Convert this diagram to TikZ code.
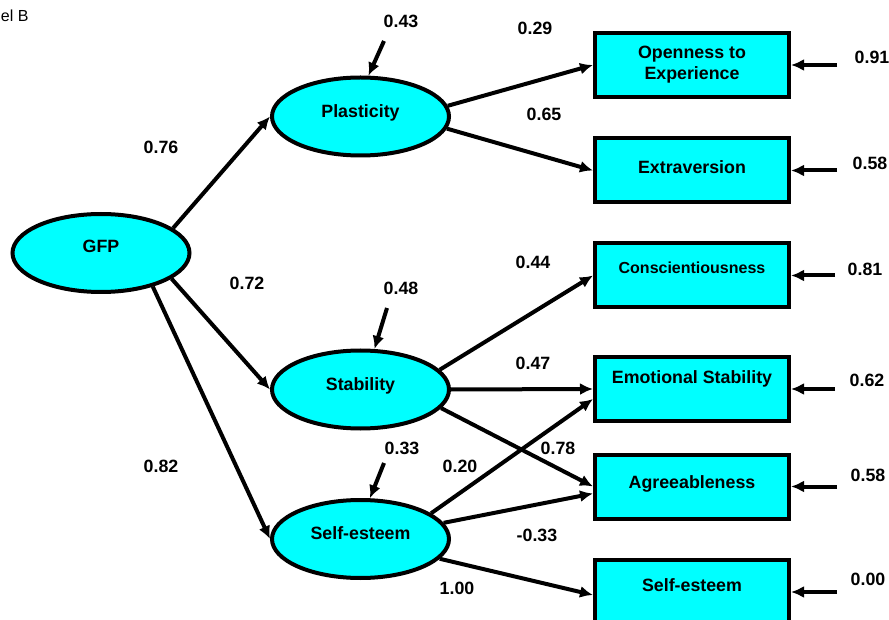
\documentclass[tikz,border=0pt]{standalone}
\usepackage{fontspec}
\setmainfont{Liberation Sans}
\usetikzlibrary{shapes.geometric,arrows.meta}
\definecolor{semcyan}{RGB}{0,255,255}

\begin{document}
\begin{tikzpicture}[x=1pt,y=-1pt,
  every node/.style={font=\fontsize{17.8}{21}\selectfont\bfseries},
  latent/.style={ellipse,draw,line width=4pt,fill=semcyan,minimum width=177pt,
    minimum height=78pt,inner sep=0pt,text height=12.5pt,text depth=11pt},
  manifest/.style={rectangle,draw,line width=4pt,fill=semcyan,minimum width=194pt,
    minimum height=64pt,inner sep=0pt,align=center},
  effect/.style={line width=4pt,-{Latex[length=13pt,width=12pt]}},
  coef/.style={inner sep=0pt}]
\useasboundingbox (0,0) rectangle (889,620);
\node[font=\fontsize{16}{19}\selectfont,anchor=base east] (panel) at (32,21.7) {el B};
% latent factors
\node[latent,text depth=14pt] (gfp) at (101,253) {GFP};
\node[latent] (plast) at (360.5,116.5) {Plasticity};
\node[latent] (stab) at (360.5,389.5) {Stability};
\node[latent] (self) at (360.5,539) {Self-esteem};
% observed scales
\node[manifest] (open) at (692,65) {Openness to\\Experience};
\node[manifest,text height=12.5pt,text depth=7pt] (extra) at (692,170.5) {Extraversion};
\node[manifest,font=\fontsize{16}{20}\selectfont\bfseries,text height=12pt,text depth=15pt] (consc) at (692,275.5) {Conscientiousness};
\node[manifest,text height=12.5pt,text depth=24pt] (emo) at (692,389) {Emotional Stability};
\node[manifest,text height=12.5pt,text depth=9pt] (agree) at (692,486.5) {Agreeableness};
\node[manifest,text height=12.5pt,text depth=14pt] (sebox) at (692,592) {Self-esteem};
% disturbances
\coordinate (dplast) at (384,41);
\coordinate (dstab) at (387,308);
\coordinate (dself) at (384,463);
\draw[effect] (dplast) -- (plast.79);
\draw[effect] (dstab) -- (stab.71);
\draw[effect] (dself) -- (self.77);
\node[coef] (uplast) at (401,21) {0.43};
\node[coef] (ustab) at (401,288) {0.48};
\node[coef] (uself) at (402,448) {0.33};
% structural paths
\draw[effect] (gfp.19) -- (plast.west);
\draw[effect] (gfp.-20) -- (stab.west);
\draw[effect] (gfp.-33) -- (self.west);
\node[coef] (bplast) at (161,147) {0.76};
\node[coef] (bstab) at (247,283) {0.72};
\node[coef] (bself) at (161,466) {0.82};
% loadings
\draw[effect] (plast.7) -- (open.west);
\draw[effect] (plast.-8) -- (extra.west);
\draw[effect] (stab.14) -- (consc.west);
\draw[effect] (stab.east) -- (emo.west);
\draw[effect] (stab.-13) -- (agree.west);
\draw[effect] (self.20) -- ([yshift=-10pt]emo.west);
\draw[effect] (self.11) -- ([yshift=-7pt]agree.west);
\draw[effect] (self.-14.5) -- ([yshift=-3pt]sebox.west);
\node[coef] (lopen) at (535,28) {0.29};
\node[coef] (lextra) at (544,114) {0.65};
\node[coef] (lconsc) at (533,262) {0.44};
\node[coef] (lemo) at (533,363) {0.47};
\node[coef] (lagree) at (558,448) {0.78};
\node[coef] (lselfemo) at (460,466) {0.20};
\node[coef] (lselfagree) at (537,535) {-0.33};
\node[coef] (lsebox) at (457,588) {1.00};
% residuals
\coordinate (eopen) at (837,65);
\coordinate (eextra) at (837,170.5);
\coordinate (econsc) at (835,275.5);
\coordinate (eemo) at (835,389);
\coordinate (eagree) at (837,486.5);
\coordinate (esebox) at (837,592);
\foreach \s in {open,extra,consc,emo,agree,sebox}
  \draw[effect] (e\s) -- (\s.east);
\node[coef] (ropen) at (872,57) {0.91};
\node[coef] (rextra) at (870,163) {0.58};
\node[coef] (rconsc) at (865,269) {0.81};
\node[coef] (remo) at (867,380) {0.62};
\node[coef] (ragree) at (868,475) {0.58};
\node[coef] (rsebox) at (868,579) {0.00};
\end{tikzpicture}
\end{document}
